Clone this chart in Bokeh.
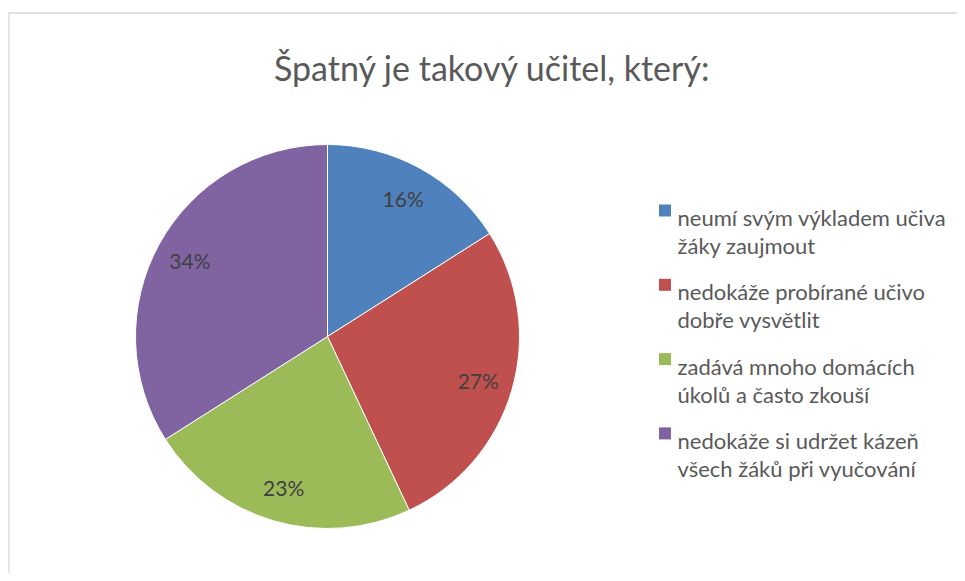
import math
from bokeh.plotting import figure
from bokeh.models import Range1d, ColumnDataSource
from bokeh.core.properties import value
from bokeh.embed import file_html
from bokeh.resources import INLINE

title = "Špatný je takový učitel, který:"
categories = [
    "neumí svým výkladem učiva\nžáky zaujmout",
    "nedokáže probírané učivo\ndobře vysvětlit",
    "zadává mnoho domácích\núkolů a často zkouší",
    "nedokáže si udržet kázeň\nvšech žáků při vyučování",
]
shares = [16, 27, 23, 34]
colors = ["#4F81BD", "#C0504D", "#9BBB59", "#8064A2"]

W, H = 957, 573
FONT = "Lato"
OFF = 0

p = figure(width=W, height=H, output_backend="svg", toolbar_location=None,
           x_range=Range1d(0, W), y_range=Range1d(0, H), min_border=0)
p.axis.visible = False
p.grid.visible = False
p.outline_line_color = None
p.background_fill_color = "white"
p.border_fill_color = "white"

# screen coords helper
def fx(px):
    return px - OFF
def fy(py):
    return H + OFF - py

# chart frame
p.line([fx(8.5), fx(8.5), W], [0, fy(12.5), fy(12.5)], line_color="#D9D9D9", line_width=1.3)

# pie
cx, cy, R = fx(327), fy(336), 192
total = sum(shares)
starts, ends, lx, ly, labs = [], [], [], [], []
cum = 0.0
for s in shares:
    a0 = math.pi / 2 - 2 * math.pi * cum / total
    cum += s
    a1 = math.pi / 2 - 2 * math.pi * cum / total
    starts.append(a0)
    ends.append(a1)
    mid = (a0 + a1) / 2
    lx.append(cx + 157 * math.cos(mid))
    ly.append(cy + 157 * math.sin(mid))
    labs.append(f"{s}%")

src = ColumnDataSource(dict(start=starts, end=ends, color=colors))
p.wedge(x=cx, y=cy, radius=R, start_angle="start", end_angle="end", direction="clock",
        fill_color="color", line_color="white", line_width=1, source=src)

p.text(x=lx, y=ly, text=labs, text_font=value(FONT), text_font_size="21px",
       text_color="#404040", text_align="center", text_baseline="middle")

# title
p.text(x=[fx(492)], y=[fy(67)], text=[title], text_font=value(FONT), text_font_size="34px",
       text_color="#595959", text_align="center", text_baseline="alphabetic")

# legend
sq_x, sq_y, l1, l2 = [], [], [], []
for i, c in enumerate(categories):
    base = 217 + i * 74.3
    sq_x.append(fx(664.5))
    sq_y.append(fy(base - 7))
    a, b = c.split("\n")
    l1.append((fx(677), fy(base), a))
    l2.append((fx(677), fy(base + 28), b))
p.rect(x=sq_x, y=sq_y, width=12, height=12, fill_color=colors, line_color=None)
for lines in (l1, l2):
    p.text(x=[t[0] for t in lines], y=[t[1] for t in lines], text=[t[2] for t in lines],
           text_font=value(FONT), text_font_size="22px", text_color="#595959",
           text_align="left", text_baseline="alphabetic")

open("out.html", "w").write(file_html(p, INLINE))
